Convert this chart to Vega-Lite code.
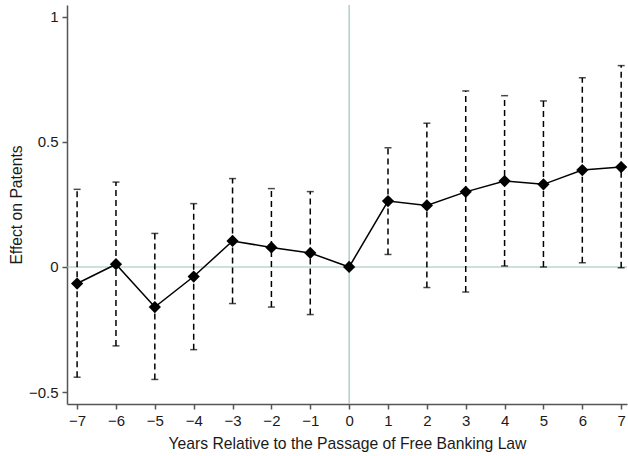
{
  "$schema": "https://vega.github.io/schema/vega-lite/v6.json",
  "autosize": "none",
  "width": 560,
  "height": 399,
  "padding": {"left": 67, "top": 5, "right": 1, "bottom": 52},
  "background": "white",
  "config": {
    "view": {"stroke": null},
    "font": "Liberation Sans",
    "axis": {
      "grid": false,
      "domainColor": "#555555",
      "domainWidth": 1.5,
      "tickColor": "#555555",
      "tickWidth": 1.5,
      "tickSize": 5,
      "labelFont": "Liberation Sans",
      "labelFontSize": 15,
      "labelColor": "#1a1a1a",
      "titleFont": "Liberation Sans",
      "titleFontSize": 15.7,
      "titleFontWeight": "normal",
      "titleColor": "#1a1a1a"
    }
  },
  "data": {
    "values": [
      {"year": -7, "est": -0.066, "lo": -0.44, "hi": 0.31},
      {"year": -6, "est": 0.011, "lo": -0.315, "hi": 0.339},
      {"year": -5, "est": -0.16, "lo": -0.449, "hi": 0.134},
      {"year": -4, "est": -0.038, "lo": -0.33, "hi": 0.253},
      {"year": -3, "est": 0.104, "lo": -0.146, "hi": 0.353},
      {"year": -2, "est": 0.078, "lo": -0.16, "hi": 0.313},
      {"year": -1, "est": 0.056, "lo": -0.19, "hi": 0.301},
      {"year": 0, "est": 0, "lo": null, "hi": null},
      {"year": 1, "est": 0.263, "lo": 0.05, "hi": 0.476},
      {"year": 2, "est": 0.246, "lo": -0.082, "hi": 0.574},
      {"year": 3, "est": 0.3, "lo": -0.1, "hi": 0.703},
      {"year": 4, "est": 0.343, "lo": 0.004, "hi": 0.684},
      {"year": 5, "est": 0.33, "lo": 0.0, "hi": 0.663},
      {"year": 6, "est": 0.387, "lo": 0.017, "hi": 0.756},
      {"year": 7, "est": 0.399, "lo": -0.003, "hi": 0.804}
    ]
  },
  "encoding": {
    "x": {
      "field": "year", "type": "quantitative",
      "scale": {"domain": [-7.26, 7.15], "nice": false, "zero": false},
      "axis": {"values": [-7,-6,-5,-4,-3,-2,-1,0,1,2,3,4,5,6,7], "format": "~g", "title": "Years Relative to the Passage of Free Banking Law", "labelPadding": 4, "titlePadding": 8}
    }
  },
  "layer": [
    {
      "data": {"values": [{"ref": 0}]},
      "mark": {"type": "rule", "color": "#9dc2ba", "strokeWidth": 1.2},
      "encoding": {"x": null, "y": {"field": "ref", "type": "quantitative", "scale": {"domain": [-0.547, 1.046], "nice": false, "zero": false}}}
    },
    {
      "data": {"values": [{"ref": 0}]},
      "mark": {"type": "rule", "color": "#9dc2ba", "strokeWidth": 1.2},
      "encoding": {"x": {"field": "ref", "type": "quantitative"}}
    },
    {
      "mark": {"type": "rule", "color": "black", "strokeWidth": 1.5, "strokeDash": [6, 4]},
      "encoding": {
        "y": {"field": "lo", "type": "quantitative"},
        "y2": {"field": "hi"}
      }
    },
    {
      "mark": {"type": "tick", "orient": "horizontal", "color": "black", "size": 7, "thickness": 1.5},
      "encoding": {"y": {"field": "lo", "type": "quantitative"}}
    },
    {
      "mark": {"type": "tick", "orient": "horizontal", "color": "black", "size": 7, "thickness": 1.5},
      "encoding": {"y": {"field": "hi", "type": "quantitative"}}
    },
    {
      "mark": {"type": "line", "color": "black", "strokeWidth": 1.5},
      "encoding": {"y": {"field": "est", "type": "quantitative"}}
    },
    {
      "mark": {"type": "point", "shape": "diamond", "filled": true, "color": "black", "size": 150, "opacity": 1},
      "encoding": {
        "y": {
          "field": "est", "type": "quantitative",
          "axis": {"values": [-0.5, 0, 0.5, 1], "format": "~g", "title": "Effect on Patents", "titlePadding": 4, "labelPadding": 4}
        }
      }
    }
  ]
}
